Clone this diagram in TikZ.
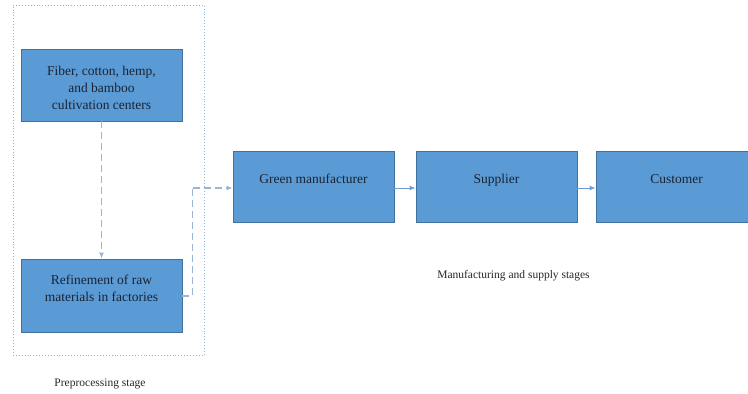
\documentclass[tikz,border=0pt]{standalone}
\usepackage{fontspec}
\setmainfont{Liberation Serif}
\usetikzlibrary{arrows.meta}
\definecolor{boxfill}{HTML}{5B9BD5}
\definecolor{boxline}{HTML}{41719C}
\definecolor{boxtext}{HTML}{1B2233}
\definecolor{flowline}{HTML}{6F9FD0}
\definecolor{dashline}{HTML}{9AB6D3}
\definecolor{frameline}{HTML}{8FB6DA}
\tikzset{
  stagebox/.style={draw=boxline, line width=0.9pt, fill=boxfill, rectangle,
    minimum width=161pt, inner sep=0pt},
  boxlabel/.style={text=boxtext, font=\fontsize{13.5}{17}\selectfont, align=center, inner sep=0pt},
  caption/.style={text=black!85, font=\fontsize{11.5}{14}\selectfont, inner sep=0pt, anchor=base},
  flow/.style={draw=flowline, line width=0.9pt, -{Latex[length=6pt,width=5pt]}},
  dashflow/.style={draw=dashline, line width=1.1pt, dash pattern=on 7pt off 4pt},
}
\begin{document}
\begin{tikzpicture}[x=1pt,y=-1pt]
  \useasboundingbox (0,0) rectangle (748,394);
  \clip (0,0) rectangle (748,394);

  % dotted frame around the preprocessing stage
  \node[draw=frameline, line width=0.9pt, dotted, rectangle, inner sep=0pt,
        minimum width=191pt, minimum height=350pt] (frame) at (108.5,180) {};

  % stage boxes
  \node[stagebox, minimum height=72pt] (crop) at (101.5,85) {};
  \node[boxlabel] (croptext) at (101.5,88) {Fiber, cotton, hemp,\\and bamboo\\cultivation centers};

  \node[stagebox, minimum height=73pt] (refine) at (101.5,295.5) {};
  \node[boxlabel] (refinetext) at (101.5,288) {Refinement of raw\\materials in factories};

  \node[stagebox, minimum height=71pt] (maker) at (313.5,186.5) {};
  \node[boxlabel, anchor=base] (makertext) at (313.5,183) {Green manufacturer};

  \node[stagebox, minimum height=71pt] (supplier) at (496.5,186.5) {};
  \node[boxlabel, anchor=base] (suppliertext) at (496.5,183) {Supplier};

  \node[stagebox, minimum height=71pt] (customer) at (676.5,186.5) {};
  \node[boxlabel, anchor=base] (customertext) at (676.5,183) {Customer};

  % stage captions
  \node[caption] (mcap) at (513.5,278) {Manufacturing and supply stages};
  \node[caption] (pcap) at (100,386) {Preprocessing stage};

  % connectors
  \coordinate (bendlow) at (192.5,296);
  \coordinate (bendhigh) at (192.5,188);
  \draw[dashflow, -{Latex[length=6pt,width=5pt]}] (crop.south) -- (refine.north);
  \draw[dashflow] (refine.east |- bendlow) -- (bendlow) -- (bendhigh);
  \draw[dashflow, -{Latex[length=6pt,width=5pt]}] (bendhigh) -- (maker.west |- bendhigh);
  \draw[flow] (maker.east |- bendhigh) -- (supplier.west |- bendhigh);
  \draw[flow] (supplier.east |- bendhigh) -- (customer.west |- bendhigh);
\end{tikzpicture}
\end{document}
